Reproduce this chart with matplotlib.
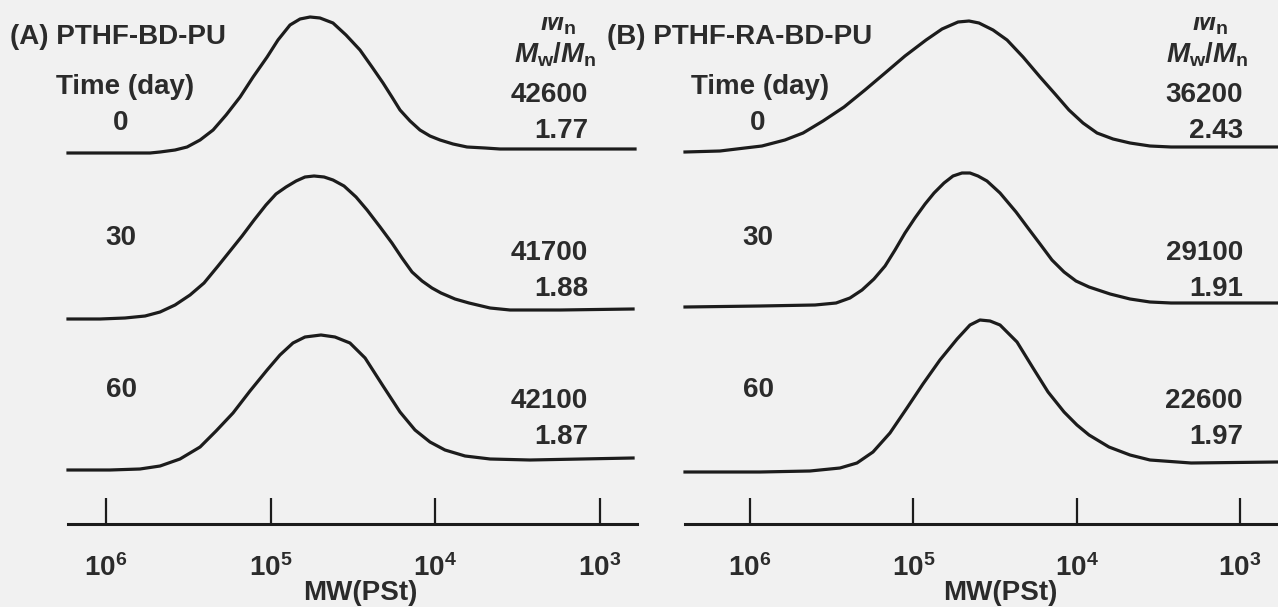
import matplotlib
matplotlib.use("Agg")
import matplotlib.pyplot as plt
from matplotlib.patches import Rectangle
from matplotlib.ticker import FixedLocator, NullLocator

# GPC traces: log10(MW) vs detector response (arb. units)
# (A) PTHF-BD-PU
a0_logmw = [6.231, 6.036, 5.854, 5.733, 5.672, 5.581, 5.508, 5.429, 5.350, 5.271,
            5.186, 5.107, 5.022, 4.956, 4.883, 4.822, 4.761, 4.701, 4.622, 4.543,
            4.458, 4.385, 4.318, 4.264, 4.215, 4.154, 4.094, 4.033, 3.972, 3.893,
            3.808, 3.699, 3.608, 3.243, 2.788]
a0_signal = [0, 0, 0, 0, 1, 3, 6, 13, 23, 38, 56, 76, 96, 113, 128, 134, 136, 135,
             130, 118, 103, 86, 70, 56, 43, 32, 23, 17, 13, 9, 6, 5, 4, 4, 4]
a30_logmw = [6.231, 6.036, 5.885, 5.763, 5.672, 5.581, 5.490, 5.405, 5.320, 5.247,
             5.174, 5.101, 5.029, 4.968, 4.907, 4.846, 4.792, 4.737, 4.676, 4.622,
             4.555, 4.482, 4.415, 4.336, 4.264, 4.203, 4.142, 4.081, 4.021, 3.966,
             3.881, 3.796, 3.668, 3.547, 3.243, 2.800]
a30_signal = [0, 0, 1, 3, 7, 14, 24, 36, 53, 68, 83, 99, 114, 125, 132, 138, 142,
              143, 142, 139, 133, 122, 109, 92, 76, 61, 47, 38, 31, 26, 20, 16, 11,
              9, 9, 10]
a60_logmw = [6.231, 5.976, 5.794, 5.672, 5.551, 5.429, 5.332, 5.229, 5.126, 5.022,
             4.944, 4.865, 4.792, 4.695, 4.610, 4.519, 4.427, 4.318, 4.215, 4.124,
             4.033, 3.942, 3.820, 3.668, 3.426, 2.800]
a60_signal = [0, 0, 1, 4, 11, 23, 39, 57, 79, 100, 115, 127, 133, 135, 133, 127,
              112, 84, 58, 40, 28, 20, 14, 11, 10, 12]

# (B) PTHF-RA-BD-PU
b0_logmw = [6.398, 6.184, 6.031, 5.927, 5.786, 5.675, 5.553, 5.424, 5.296, 5.173,
            5.051, 4.922, 4.824, 4.726, 4.659, 4.598, 4.512, 4.426, 4.328, 4.224,
            4.132, 4.047, 3.961, 3.875, 3.777, 3.673, 3.551, 3.422, 3.122, 2.767]
b0_signal = [0, 1, 4, 6, 12, 19, 31, 45, 62, 79, 96, 112, 123, 130, 131, 129, 122,
             112, 95, 75, 58, 42, 29, 19, 13, 9, 6, 5, 5, 5]
b30_logmw = [6.398, 5.939, 5.602, 5.473, 5.388, 5.314, 5.241, 5.173, 5.112, 5.051,
             4.990, 4.928, 4.873, 4.812, 4.757, 4.702, 4.653, 4.604, 4.549, 4.469,
             4.371, 4.298, 4.224, 4.151, 4.077, 4.004, 3.924, 3.795, 3.673, 3.551,
             3.422, 2.767]
b30_signal = [0, 1, 2, 4, 9, 17, 28, 41, 57, 74, 89, 103, 114, 124, 131, 134, 134,
              131, 126, 114, 95, 79, 63, 47, 35, 26, 20, 13, 8, 5, 4, 4]
b60_logmw = [6.398, 5.939, 5.633, 5.449, 5.345, 5.247, 5.143, 5.039, 4.941, 4.837,
             4.732, 4.653, 4.592, 4.530, 4.469, 4.365, 4.267, 4.175, 4.077, 3.998,
             3.924, 3.802, 3.673, 3.551, 3.299, 2.767]
b60_signal = [0, 0, 1, 4, 9, 20, 39, 64, 88, 112, 133, 147, 152, 151, 147, 130,
              104, 80, 60, 47, 37, 25, 17, 12, 9, 10]

times = [0, 30, 60]
mn_a = [42600, 41700, 42100]
pdi_a = [1.77, 1.88, 1.87]
mn_b = [36200, 29100, 22600]
pdi_b = [2.43, 1.91, 1.97]
tick_exps = [6, 5, 4, 3]

W, H = 1278, 607
BG = "#f1f1f1"
TXT = "#2b2b2b"
INK = "#1c1c1c"
FS = 20

plt.rcParams["font.family"] = ["Liberation Sans", "DejaVu Sans"]
plt.rcParams["mathtext.fontset"] = "custom"
plt.rcParams["mathtext.rm"] = "Liberation Sans:bold"
plt.rcParams["mathtext.bf"] = "Liberation Sans:bold"
plt.rcParams["mathtext.it"] = "Liberation Sans:italic:bold"

fig = plt.figure(figsize=(W / 100, H / 100), dpi=100, facecolor=BG)


def put(x, y, s, ha="center", size=FS):
    fig.text(x / W, 1 - y / H, s, ha=ha, va="center", fontsize=size,
             color=TXT, fontweight="bold")


panels = [
    dict(left=68, right=637, xlim=(6.231, 2.776), title="(A) PTHF-BD-PU",
         title_x=10, time_x=125, label_x=121, num_x=588, mw_x=555,
         xlabel_x=360,
         traces=[(a0_logmw, a0_signal), (a30_logmw, a30_signal), (a60_logmw, a60_signal)],
         baselines=[153, 319, 470], mn=mn_a, pdi=pdi_a),
    dict(left=685, right=1278, xlim=(6.398, 2.767), title="(B) PTHF-RA-BD-PU",
         title_x=607, time_x=760, label_x=758, num_x=1243, mw_x=1207,
         xlabel_x=1000,
         traces=[(b0_logmw, b0_signal), (b30_logmw, b30_signal), (b60_logmw, b60_signal)],
         baselines=[152, 307, 472], mn=mn_b, pdi=pdi_b),
]

axis_y = 524
num_rows = [(95, 131), (253, 289), (401, 437)]
time_rows = [123, 238, 390]

for p in panels:
    ax = fig.add_axes([p["left"] / W, (H - axis_y) / H,
                       (p["right"] - p["left"]) / W, axis_y / H])
    ax.set_facecolor("none")
    ax.set_xscale("log")
    ax.set_xlim(10 ** p["xlim"][0], 10 ** p["xlim"][1])
    ax.set_ylim(axis_y, 0)

    for (lm, sig), base in zip(p["traces"], p["baselines"]):
        ax.plot([10 ** v for v in lm], [base - s for s in sig],
                color=INK, lw=2.3, solid_joinstyle="round", clip_on=False)

    for side in ["top", "left", "right"]:
        ax.spines[side].set_visible(False)
    ax.spines["bottom"].set_linewidth(2.2)
    ax.spines["bottom"].set_color(INK)
    ax.yaxis.set_visible(False)
    ax.xaxis.set_major_locator(FixedLocator([10.0 ** e for e in tick_exps]))
    ax.xaxis.set_minor_locator(NullLocator())
    ax.set_xticklabels([r"$\mathbf{10^{%d}}$" % e for e in tick_exps])
    ax.tick_params(axis="x", direction="in", length=19, width=1.6, color=INK,
                   pad=22, labelsize=FS, labelcolor=TXT)

    put(p["xlabel_x"], 593, "MW(PSt)")
    put(p["title_x"], 37, p["title"], ha="left")
    put(p["time_x"], 87, "Time (day)")
    put(p["mw_x"] + 3, 23, r"$M_\mathrm{n}$")
    put(p["mw_x"], 55, r"$M_\mathrm{w}/M_\mathrm{n}$")
    for t, ty in zip(times, time_rows):
        put(p["label_x"], ty, str(t))
    for mn, pdi, (y1, y2) in zip(p["mn"], p["pdi"], num_rows):
        put(p["num_x"], y1, str(mn), ha="right")
        put(p["num_x"], y2, f"{pdi:.2f}", ha="right")
    # top of the upper M_n is cut off in the scan
    fig.patches.append(Rectangle(((p["mw_x"] - 25) / W, 1 - 17 / H), 50 / W, 17 / H,
                                 transform=fig.transFigure, facecolor=BG,
                                 edgecolor="none", zorder=5))

fig.savefig("out.png", dpi=100, facecolor=BG)
